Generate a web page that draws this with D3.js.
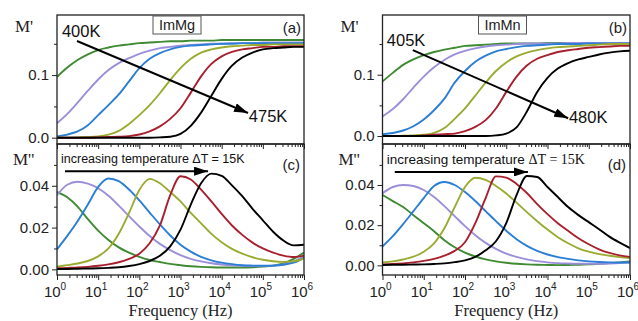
<!DOCTYPE html>
<html>
<head>
<meta charset="utf-8">
<script src="https://cdn.jsdelivr.net/npm/d3@7"></script>
<style>
  body { margin: 0; background: #fff; }
  svg text { font-family: "Liberation Sans", Arial, sans-serif; }
  svg text.serif, svg tspan.serif { font-family: "Liberation Serif", "Times New Roman", serif; }
</style>
</head>
<body>
<svg id="chart" width="638" height="321"></svg>
<script>
// frequency grid, log10(f / Hz), quarter decades
const logF = [0,0.25,0.5,0.75,1,1.25,1.5,1.75,2,2.25,2.5,2.75,3,3.25,3.5,3.75,4,4.25,4.5,4.75,5,5.25,5.5,5.75,6];
const freq = logF.map(v => Math.pow(10, v));

const tempsMg = [400, 415, 430, 445, 460, 475];
const tempsMn = [405, 420, 435, 450, 465, 480];
const curveColors = ["#3f8a32", "#9b8fdb", "#2b7ed6", "#9bab30", "#a8202d", "#000000"];

const decades = [1, 10, 100, 1e3, 1e4, 1e5, 1e6];
const decadeExp = ["0", "1", "2", "3", "4", "5", "6"];
const realTicks = [0, 0.1], realMinor = [0.05, 0.15];
const imagTicks = [0, 0.02, 0.04], imagMinor = [0.01, 0.03, 0.05];

// (a) ImMg, M'  — one row per temperature (400 ... 475 K)
const mgReal = [
  [0.097,0.112,0.124,0.133,0.140,0.144,0.147,0.149,0.151,0.152,0.153,0.154,0.154,0.155,0.155,0.155,0.156,0.156,0.156,0.156,0.156,0.156,0.156,0.156,0.156],
  [0.023,0.038,0.056,0.075,0.093,0.108,0.119,0.127,0.134,0.139,0.143,0.145,0.147,0.148,0.149,0.150,0.150,0.151,0.151,0.151,0.152,0.152,0.152,0.152,0.152],
  [0.002,0.005,0.010,0.020,0.036,0.052,0.069,0.090,0.111,0.126,0.135,0.141,0.145,0.147,0.148,0.149,0.150,0.150,0.151,0.151,0.151,0.151,0.151,0.151,0.151],
  [0,0,0.0005,0.001,0.002,0.005,0.011,0.022,0.036,0.052,0.071,0.092,0.111,0.126,0.136,0.141,0.144,0.146,0.147,0.148,0.148,0.149,0.149,0.149,0.149],
  [0,0,0,0,0.0005,0.001,0.0015,0.0025,0.005,0.010,0.018,0.030,0.047,0.072,0.098,0.118,0.130,0.137,0.141,0.143,0.145,0.145,0.146,0.146,0.146],
  [0,0,0,0,0,0,0,0,0,0,0.0005,0.0015,0.006,0.019,0.040,0.067,0.094,0.115,0.128,0.136,0.141,0.143,0.144,0.145,0.145]
];

// (b) ImMn, M'  (405 ... 480 K)
const mnReal = [
  [0.089,0.103,0.116,0.125,0.132,0.137,0.141,0.144,0.147,0.148,0.149,0.150,0.151,0.151,0.151,0.151,0.152,0.152,0.152,0.152,0.152,0.152,0.152,0.152,0.152],
  [0.032,0.044,0.060,0.079,0.097,0.112,0.124,0.133,0.139,0.143,0.146,0.148,0.149,0.150,0.151,0.151,0.151,0.151,0.152,0.152,0.152,0.152,0.152,0.152,0.152],
  [0.003,0.005,0.009,0.016,0.027,0.042,0.061,0.087,0.106,0.121,0.131,0.138,0.142,0.145,0.147,0.148,0.149,0.150,0.150,0.150,0.151,0.151,0.151,0.151,0.151],
  [0,0,0.0005,0.001,0.002,0.005,0.013,0.028,0.045,0.066,0.087,0.106,0.120,0.130,0.136,0.140,0.143,0.145,0.146,0.147,0.148,0.149,0.150,0.150,0.150],
  [0,0,0,0,0.001,0.002,0.003,0.004,0.008,0.015,0.026,0.045,0.072,0.097,0.115,0.126,0.132,0.137,0.140,0.142,0.144,0.145,0.146,0.147,0.147],
  [0,0,0,0,0,0,0,0,0,0,0,0.001,0.004,0.014,0.040,0.072,0.095,0.110,0.119,0.125,0.129,0.133,0.136,0.138,0.139]
];

// (c) ImMg, M''
const mgImag = [
  [0.0371,0.0345,0.0300,0.0240,0.0185,0.0140,0.0105,0.0080,0.0060,0.0045,0.0035,0.0026,0.0020,0.0015,0.0012,0.0010,0.0009,0.0009,0.0009,0.0010,0.0013,0.0018,0.0028,0.0050,0.0080],
  [0.0355,0.0405,0.0419,0.0410,0.0388,0.0352,0.0305,0.0255,0.0205,0.0160,0.0122,0.0092,0.0068,0.0050,0.0038,0.0029,0.0023,0.0019,0.0017,0.0016,0.0016,0.0018,0.0024,0.0038,0.0062],
  [0.0096,0.0160,0.0230,0.0310,0.0395,0.0435,0.0422,0.0382,0.0330,0.0272,0.0215,0.0162,0.0118,0.0085,0.0060,0.0043,0.0032,0.0025,0.0020,0.0018,0.0017,0.0018,0.0022,0.0032,0.0055],
  [0.0013,0.0020,0.0028,0.0040,0.0062,0.0100,0.0170,0.0270,0.0380,0.0433,0.0412,0.0370,0.0325,0.0270,0.0220,0.0170,0.0130,0.0098,0.0075,0.0058,0.0046,0.0039,0.0036,0.0038,0.0052],
  [0.0005,0.0007,0.0009,0.0012,0.0017,0.0024,0.0034,0.0050,0.0075,0.0125,0.0210,0.0355,0.0446,0.0430,0.0382,0.0325,0.0265,0.0210,0.0165,0.0128,0.0100,0.0080,0.0066,0.0059,0.0066],
  [0.0002,0.0002,0.0003,0.0004,0.0005,0.0007,0.0010,0.0016,0.0025,0.0040,0.0065,0.0110,0.0190,0.0310,0.0412,0.0458,0.0447,0.0402,0.0350,0.0290,0.0235,0.0180,0.0138,0.0115,0.0118]
];

// (d) ImMn, M''
const mnImag = [
  [0.0350,0.0320,0.0290,0.0250,0.0210,0.0170,0.0125,0.0090,0.0063,0.0044,0.0030,0.0020,0.0013,0.0008,0.0005,0.0003,0.0002,0.0001,0.0002,0.0003,0.0005,0.0008,0.0011,0.0015,0.0020],
  [0.0359,0.0390,0.0400,0.0395,0.0375,0.0340,0.0295,0.0245,0.0195,0.0150,0.0112,0.0082,0.0058,0.0042,0.0030,0.0021,0.0015,0.0011,0.0009,0.0008,0.0008,0.0008,0.0009,0.0011,0.0015],
  [0.0094,0.0145,0.0205,0.0270,0.0335,0.0395,0.0415,0.0400,0.0365,0.0320,0.0270,0.0220,0.0172,0.0130,0.0097,0.0072,0.0054,0.0041,0.0032,0.0025,0.0020,0.0017,0.0015,0.0014,0.0014],
  [0.0015,0.0020,0.0029,0.0043,0.0068,0.0110,0.0185,0.0290,0.0390,0.0436,0.0425,0.0395,0.0358,0.0312,0.0265,0.0220,0.0178,0.0140,0.0110,0.0085,0.0068,0.0056,0.0048,0.0041,0.0036],
  [0.0005,0.0007,0.0010,0.0015,0.0022,0.0032,0.0048,0.0072,0.0115,0.0210,0.0335,0.0443,0.0437,0.0405,0.0360,0.0305,0.0255,0.0210,0.0172,0.0135,0.0105,0.0080,0.0062,0.0050,0.0042],
  [0.0002,0.0003,0.0003,0.0004,0.0005,0.0007,0.0010,0.0016,0.0025,0.0042,0.0075,0.0120,0.0210,0.0350,0.0445,0.0440,0.0390,0.0340,0.0290,0.0250,0.0215,0.0180,0.0143,0.0113,0.0086]
];

const svg = d3.select("#chart");
const defs = svg.append("defs");
defs.append("marker")
  .attr("id", "head")
  .attr("viewBox", "0 0 14 9")
  .attr("refX", 14).attr("refY", 4.5)
  .attr("markerWidth", 14).attr("markerHeight", 9)
  .attr("markerUnits", "userSpaceOnUse")
  .attr("orient", "auto")
  .append("path").attr("d", "M0,0L14,4.5L0,9Z").attr("fill", "#000");

const frameColor = "#222";
let clipCount = 0;

function panel(o) {
  const g = svg.append("g");
  const x = d3.scaleLog().domain([1, 1e6]).range([o.left, o.right]);
  const y = d3.scaleLinear().domain(o.yDomain).range([o.bottom, o.top]);

  const clipId = "clip" + (clipCount++);
  defs.append("clipPath").attr("id", clipId)
    .append("rect").attr("x", o.left).attr("y", o.top)
    .attr("width", o.right - o.left).attr("height", o.bottom - o.top);

  const line = d3.line()
    .x((d, i) => x(freq[i]))
    .y(d => y(d))
    .curve(d3.curveMonotoneX);

  g.append("g").attr("clip-path", `url(#${clipId})`)
    .selectAll("path").data(o.series).join("path")
    .attr("d", line)
    .attr("fill", "none")
    .attr("stroke", (d, i) => curveColors[i])
    .attr("stroke-width", 1.9);

  // y axis, major + minor ticks pointing out
  const ya = g.append("g").attr("transform", `translate(${o.left},0)`)
    .call(d3.axisLeft(y).tickValues(o.major).tickFormat(o.fmt).tickSize(5).tickPadding(3));
  ya.select(".domain").remove();
  ya.attr("font-size", 15).attr("font-family", "Liberation Sans, Arial, sans-serif").attr("color", frameColor);
  ya.selectAll("text").attr("fill", "#222");
  const ym = g.append("g").attr("transform", `translate(${o.left},0)`)
    .call(d3.axisLeft(y).tickValues(o.minor).tickFormat("").tickSize(3));
  ym.select(".domain").remove();
  ym.attr("color", frameColor);

  // x axis at the bottom edge, ticks pointing down
  const minorF = x.ticks().filter(v => decades.indexOf(v) < 0);
  const xa = g.append("g").attr("transform", `translate(0,${o.bottom})`)
    .call(d3.axisBottom(x).tickValues(decades).tickFormat("").tickSize(5));
  xa.select(".domain").remove();
  xa.attr("color", frameColor);
  const xm = g.append("g").attr("transform", `translate(0,${o.bottom})`)
    .call(d3.axisBottom(x).tickValues(minorF).tickFormat("").tickSize(3));
  xm.select(".domain").remove();
  xm.attr("color", frameColor);

  if (o.xLabels) {
    const lab = g.append("g").selectAll("text").data(decades).join("text")
      .attr("x", d => x(d) - 2)
      .attr("y", o.bottom + 22)
      .attr("text-anchor", "middle")
      .attr("font-size", 15)
      .attr("fill", "#222");
    lab.append("tspan").text("10");
    lab.append("tspan").attr("dy", -7).attr("font-size", 10).text((d, i) => decadeExp[i]);
  }

  g.append("rect")
    .attr("x", o.left).attr("y", o.top)
    .attr("width", o.right - o.left).attr("height", o.bottom - o.top)
    .attr("fill", "none").attr("stroke", frameColor).attr("stroke-width", 1.3);

  return { g, x, y };
}

const columns = [
  { left: 57, right: 304, real: mgReal, imag: mgImag, realDom: [-0.0101, 0.196], imagDom: [-0.0027, 0.0600],
    sample: "ImMg", letters: ["(a)", "(c)"], temps: tempsMg,
    tLow: [10 ** 0.12, 0.161], tHigh: [10 ** 4.66, 0.025],
    arrow: [[10 ** 0.486, 0.1545], [10 ** 4.64, 0.0395]],
    incText: [10 ** 0.097, 0.0509], incArrow: [[10 ** 0.194, 0.047], [10 ** 3.67, 0.047]], serifDelta: false },
  { left: 382.5, right: 630, real: mnReal, imag: mnImag, realDom: [-0.013, 0.1974], imagDom: [-0.0048, 0.0604],
    sample: "ImMn", letters: ["(b)", "(d)"], temps: tempsMn,
    tLow: [10 ** 0.104, 0.1468], tHigh: [10 ** 4.52, 0.0212],
    arrow: [[10 ** 0.735, 0.140], [10 ** 4.50, 0.029]],
    incText: [10 ** 0.104, 0.0505], incArrow: [[10 ** 0.298, 0.0465], [10 ** 3.525, 0.0465]], serifDelta: true }
];

columns.forEach(c => {
  const top = panel({ left: c.left, right: c.right, top: 15, bottom: 144, yDomain: c.realDom,
    series: c.real, major: realTicks, minor: realMinor, fmt: d3.format(".1f"), xLabels: false });
  const bot = panel({ left: c.left, right: c.right, top: 144, bottom: 275, yDomain: c.imagDom,
    series: c.imag, major: imagTicks, minor: imagMinor, fmt: d3.format(".2f"), xLabels: true });

  // y titles
  svg.append("text").attr("class", "serif").attr("x", c.left - 42).attr("y", 32)
    .attr("font-size", 17).attr("fill", "#222").text("M'");
  svg.append("text").attr("class", "serif").attr("x", c.left - 44).attr("y", 165)
    .attr("font-size", 17).attr("fill", "#222").text("M''");

  // x title
  svg.append("text").attr("class", "serif")
    .attr("x", (c.left + c.right) / 2).attr("y", 316)
    .attr("text-anchor", "middle").attr("font-size", 16.5).attr("fill", "#222")
    .text("Frequency (Hz)");

  // sample box
  const bx = c.left + 96;
  top.g.append("rect").attr("x", bx).attr("y", 16).attr("width", 48).attr("height", 18)
    .attr("fill", "#fff").attr("stroke", "#555").attr("stroke-width", 1);
  top.g.append("text").attr("x", bx + 24).attr("y", 30).attr("text-anchor", "middle")
    .attr("font-size", 14.5).attr("fill", "#222").text(c.sample);

  // panel letters
  top.g.append("text").attr("x", c.right - 3).attr("y", 33).attr("text-anchor", "end")
    .attr("font-size", 15).attr("fill", "#222").text(c.letters[0]);
  bot.g.append("text").attr("x", c.right - 4).attr("y", 170).attr("text-anchor", "end")
    .attr("font-size", 15).attr("fill", "#222").text(c.letters[1]);

  // temperature arrow
  top.g.append("line")
    .attr("x1", top.x(c.arrow[0][0])).attr("y1", top.y(c.arrow[0][1]))
    .attr("x2", top.x(c.arrow[1][0])).attr("y2", top.y(c.arrow[1][1]))
    .attr("stroke", "#000").attr("stroke-width", 2).attr("marker-end", "url(#head)");
  top.g.append("text").attr("x", top.x(c.tLow[0])).attr("y", top.y(c.tLow[1]))
    .attr("font-size", 16.5).attr("fill", "#111").text(c.temps[0] + "K");
  top.g.append("text").attr("x", top.x(c.tHigh[0])).attr("y", top.y(c.tHigh[1]))
    .attr("font-size", 16.5).attr("fill", "#111").text(c.temps[c.temps.length - 1] + "K");

  // increasing temperature note
  const dT = c.temps[1] - c.temps[0];
  const note = bot.g.append("text").attr("x", bot.x(c.incText[0])).attr("y", bot.y(c.incText[1]))
    .attr("fill", "#111");
  if (c.serifDelta) {
    note.attr("font-size", 13.5);
    note.append("tspan").text("increasing temperature ");
    note.append("tspan").attr("class", "serif").attr("font-size", 14).text("\u0394T = " + dT + "K");
  } else {
    note.attr("font-size", 12.5).text("increasing temperature \u0394T = " + dT + "K");
  }
  bot.g.append("line")
    .attr("x1", bot.x(c.incArrow[0][0])).attr("y1", bot.y(c.incArrow[0][1]))
    .attr("x2", bot.x(c.incArrow[1][0])).attr("y2", bot.y(c.incArrow[1][1]))
    .attr("stroke", "#000").attr("stroke-width", 2).attr("marker-end", "url(#head)");
});
</script>
</body>
</html>
